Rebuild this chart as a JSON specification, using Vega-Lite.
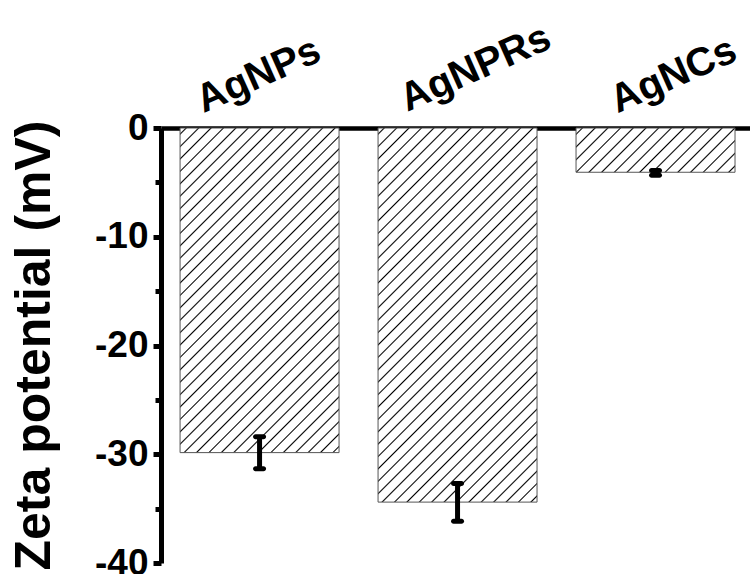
{
  "$schema": "https://vega.github.io/schema/vega-lite/v6.json",
  "width": 589,
  "height": 435,
  "autosize": {"type": "none"},
  "padding": {"left": 161, "top": 128, "right": 0, "bottom": 11},
  "background": "white",
  "config": {"view": {"stroke": null}},
  "data": {"values": [
    {"cat": "AgNPs", "zeta": -29.85, "lo": -31.33, "hi": -28.4},
    {"cat": "AgNPRs", "zeta": -34.4, "lo": -36.15, "hi": -32.7},
    {"cat": "AgNCs", "zeta": -4.07, "lo": -4.35, "hi": -3.9}
  ]},
  "encoding": {
    "x": {
      "field": "cat", "type": "nominal", "sort": null,
      "scale": {"domain": ["AgNPs", "AgNPRs", "AgNCs"], "paddingInner": 0.197, "paddingOuter": 0.086, "align": 0.56},
      "axis": {
        "orient": "top", "title": null, "ticks": false,
        "domainColor": "black", "domainWidth": 4.5,
        "labelAngle": -24, "labelAlign": "center", "labelBaseline": "middle",
        "labelPadding": {"condition": {"test": "datum.value === 'AgNPRs'", "value": 60}, "value": 53},
        "labelOffset": {"condition": {"test": "datum.value === 'AgNPs'", "value": -1}, "value": 18},
        "labelFont": "Liberation Sans", "labelFontWeight": "bold", "labelFontSize": 40, "labelColor": "black"
      }
    }
  },
  "layer": [
    {
      "transform": [{"filter": "datum.cat === 'AgNPs'"}],
      "mark": {"type": "bar", "stroke": "#555", "strokeWidth": 1,
        "fill": {"gradient": "linear", "x1": 0, "y1": 0, "x2": 0.5886, "y2": 1.2015, "stops": [
{"offset":0.0097,"color":"#fff"},{"offset":0.0128,"color":"#000"},{"offset":0.0159,"color":"#fff"},
{"offset":0.0354,"color":"#fff"},{"offset":0.0385,"color":"#000"},{"offset":0.0416,"color":"#fff"},
{"offset":0.0610,"color":"#fff"},{"offset":0.0641,"color":"#000"},{"offset":0.0672,"color":"#fff"},
{"offset":0.0866,"color":"#fff"},{"offset":0.0897,"color":"#000"},{"offset":0.0928,"color":"#fff"},
{"offset":0.1123,"color":"#fff"},{"offset":0.1154,"color":"#000"},{"offset":0.1185,"color":"#fff"},
{"offset":0.1379,"color":"#fff"},{"offset":0.1410,"color":"#000"},{"offset":0.1441,"color":"#fff"},
{"offset":0.1636,"color":"#fff"},{"offset":0.1667,"color":"#000"},{"offset":0.1698,"color":"#fff"},
{"offset":0.1892,"color":"#fff"},{"offset":0.1923,"color":"#000"},{"offset":0.1954,"color":"#fff"},
{"offset":0.2148,"color":"#fff"},{"offset":0.2179,"color":"#000"},{"offset":0.2210,"color":"#fff"},
{"offset":0.2405,"color":"#fff"},{"offset":0.2436,"color":"#000"},{"offset":0.2467,"color":"#fff"},
{"offset":0.2661,"color":"#fff"},{"offset":0.2692,"color":"#000"},{"offset":0.2723,"color":"#fff"},
{"offset":0.2918,"color":"#fff"},{"offset":0.2949,"color":"#000"},{"offset":0.2980,"color":"#fff"},
{"offset":0.3174,"color":"#fff"},{"offset":0.3205,"color":"#000"},{"offset":0.3236,"color":"#fff"},
{"offset":0.3431,"color":"#fff"},{"offset":0.3462,"color":"#000"},{"offset":0.3493,"color":"#fff"},
{"offset":0.3687,"color":"#fff"},{"offset":0.3718,"color":"#000"},{"offset":0.3749,"color":"#fff"},
{"offset":0.3943,"color":"#fff"},{"offset":0.3974,"color":"#000"},{"offset":0.4005,"color":"#fff"},
{"offset":0.4200,"color":"#fff"},{"offset":0.4231,"color":"#000"},{"offset":0.4262,"color":"#fff"},
{"offset":0.4456,"color":"#fff"},{"offset":0.4487,"color":"#000"},{"offset":0.4518,"color":"#fff"},
{"offset":0.4713,"color":"#fff"},{"offset":0.4744,"color":"#000"},{"offset":0.4775,"color":"#fff"},
{"offset":0.4969,"color":"#fff"},{"offset":0.5000,"color":"#000"},{"offset":0.5031,"color":"#fff"},
{"offset":0.5225,"color":"#fff"},{"offset":0.5256,"color":"#000"},{"offset":0.5287,"color":"#fff"},
{"offset":0.5482,"color":"#fff"},{"offset":0.5513,"color":"#000"},{"offset":0.5544,"color":"#fff"},
{"offset":0.5738,"color":"#fff"},{"offset":0.5769,"color":"#000"},{"offset":0.5800,"color":"#fff"},
{"offset":0.5995,"color":"#fff"},{"offset":0.6026,"color":"#000"},{"offset":0.6057,"color":"#fff"},
{"offset":0.6251,"color":"#fff"},{"offset":0.6282,"color":"#000"},{"offset":0.6313,"color":"#fff"},
{"offset":0.6507,"color":"#fff"},{"offset":0.6538,"color":"#000"},{"offset":0.6569,"color":"#fff"},
{"offset":0.6764,"color":"#fff"},{"offset":0.6795,"color":"#000"},{"offset":0.6826,"color":"#fff"},
{"offset":0.7020,"color":"#fff"},{"offset":0.7051,"color":"#000"},{"offset":0.7082,"color":"#fff"},
{"offset":0.7277,"color":"#fff"},{"offset":0.7308,"color":"#000"},{"offset":0.7339,"color":"#fff"},
{"offset":0.7533,"color":"#fff"},{"offset":0.7564,"color":"#000"},{"offset":0.7595,"color":"#fff"},
{"offset":0.7790,"color":"#fff"},{"offset":0.7821,"color":"#000"},{"offset":0.7852,"color":"#fff"},
{"offset":0.8046,"color":"#fff"},{"offset":0.8077,"color":"#000"},{"offset":0.8108,"color":"#fff"},
{"offset":0.8302,"color":"#fff"},{"offset":0.8333,"color":"#000"},{"offset":0.8364,"color":"#fff"},
{"offset":0.8559,"color":"#fff"},{"offset":0.8590,"color":"#000"},{"offset":0.8621,"color":"#fff"},
{"offset":0.8815,"color":"#fff"},{"offset":0.8846,"color":"#000"},{"offset":0.8877,"color":"#fff"},
{"offset":0.9072,"color":"#fff"},{"offset":0.9103,"color":"#000"},{"offset":0.9134,"color":"#fff"},
{"offset":0.9328,"color":"#fff"},{"offset":0.9359,"color":"#000"},{"offset":0.9390,"color":"#fff"},
{"offset":0.9584,"color":"#fff"},{"offset":0.9615,"color":"#000"},{"offset":0.9646,"color":"#fff"},
{"offset":0.9841,"color":"#fff"},{"offset":0.9872,"color":"#000"},{"offset":0.9903,"color":"#fff"}
        ]}},
      "encoding": {
        "y": {
          "field": "zeta", "type": "quantitative",
          "scale": {"domain": [-40, 0], "nice": false, "zero": false},
          "axis": {
            "orient": "left",
            "title": "Zeta potential (mV)",
            "titleFont": "Liberation Sans", "titleFontWeight": "bold", "titleFontSize": 50, "titleColor": "black",
            "titleAngle": -90, "titleBaseline": "alphabetic", "titleAlign": "center",
            "titleX": -112, "titleY": 217,
            "values": [-40, -35, -30, -25, -20, -15, -10, -5, 0],
            "labelExpr": "datum.value % 10 === 0 ? '' + datum.value : ''",
            "labelFont": "Liberation Sans", "labelFontWeight": "bold", "labelFontSize": 37, "labelColor": "black",
            "labelPadding": 5, "labelAlign": "right", "labelBaseline": "middle", "labelFlush": false, "labelOverlap": false,
            "domainColor": "black", "domainWidth": 5,
            "tickColor": "black", "tickWidth": 5,
            "tickSize": {"condition": {"test": "datum.value % 10 === 0", "value": 8}, "value": 6},
            "grid": false
          }
        }
      }
    },
    {
      "transform": [{"filter": "datum.cat === 'AgNPRs'"}],
      "mark": {"type": "bar", "stroke": "#555", "strokeWidth": 1,
        "fill": {"gradient": "linear", "x1": 0, "y1": 0, "x2": 0.5130, "y2": 1.2070, "stops": [
{"offset":0.0088,"color":"#fff"},{"offset":0.0116,"color":"#000"},{"offset":0.0144,"color":"#fff"},
{"offset":0.0321,"color":"#fff"},{"offset":0.0349,"color":"#000"},{"offset":0.0377,"color":"#fff"},
{"offset":0.0553,"color":"#fff"},{"offset":0.0581,"color":"#000"},{"offset":0.0609,"color":"#fff"},
{"offset":0.0786,"color":"#fff"},{"offset":0.0814,"color":"#000"},{"offset":0.0842,"color":"#fff"},
{"offset":0.1019,"color":"#fff"},{"offset":0.1047,"color":"#000"},{"offset":0.1075,"color":"#fff"},
{"offset":0.1251,"color":"#fff"},{"offset":0.1279,"color":"#000"},{"offset":0.1307,"color":"#fff"},
{"offset":0.1484,"color":"#fff"},{"offset":0.1512,"color":"#000"},{"offset":0.1540,"color":"#fff"},
{"offset":0.1716,"color":"#fff"},{"offset":0.1744,"color":"#000"},{"offset":0.1772,"color":"#fff"},
{"offset":0.1949,"color":"#fff"},{"offset":0.1977,"color":"#000"},{"offset":0.2005,"color":"#fff"},
{"offset":0.2181,"color":"#fff"},{"offset":0.2209,"color":"#000"},{"offset":0.2237,"color":"#fff"},
{"offset":0.2414,"color":"#fff"},{"offset":0.2442,"color":"#000"},{"offset":0.2470,"color":"#fff"},
{"offset":0.2646,"color":"#fff"},{"offset":0.2674,"color":"#000"},{"offset":0.2702,"color":"#fff"},
{"offset":0.2879,"color":"#fff"},{"offset":0.2907,"color":"#000"},{"offset":0.2935,"color":"#fff"},
{"offset":0.3112,"color":"#fff"},{"offset":0.3140,"color":"#000"},{"offset":0.3168,"color":"#fff"},
{"offset":0.3344,"color":"#fff"},{"offset":0.3372,"color":"#000"},{"offset":0.3400,"color":"#fff"},
{"offset":0.3577,"color":"#fff"},{"offset":0.3605,"color":"#000"},{"offset":0.3633,"color":"#fff"},
{"offset":0.3809,"color":"#fff"},{"offset":0.3837,"color":"#000"},{"offset":0.3865,"color":"#fff"},
{"offset":0.4042,"color":"#fff"},{"offset":0.4070,"color":"#000"},{"offset":0.4098,"color":"#fff"},
{"offset":0.4274,"color":"#fff"},{"offset":0.4302,"color":"#000"},{"offset":0.4330,"color":"#fff"},
{"offset":0.4507,"color":"#fff"},{"offset":0.4535,"color":"#000"},{"offset":0.4563,"color":"#fff"},
{"offset":0.4739,"color":"#fff"},{"offset":0.4767,"color":"#000"},{"offset":0.4795,"color":"#fff"},
{"offset":0.4972,"color":"#fff"},{"offset":0.5000,"color":"#000"},{"offset":0.5028,"color":"#fff"},
{"offset":0.5205,"color":"#fff"},{"offset":0.5233,"color":"#000"},{"offset":0.5261,"color":"#fff"},
{"offset":0.5437,"color":"#fff"},{"offset":0.5465,"color":"#000"},{"offset":0.5493,"color":"#fff"},
{"offset":0.5670,"color":"#fff"},{"offset":0.5698,"color":"#000"},{"offset":0.5726,"color":"#fff"},
{"offset":0.5902,"color":"#fff"},{"offset":0.5930,"color":"#000"},{"offset":0.5958,"color":"#fff"},
{"offset":0.6135,"color":"#fff"},{"offset":0.6163,"color":"#000"},{"offset":0.6191,"color":"#fff"},
{"offset":0.6367,"color":"#fff"},{"offset":0.6395,"color":"#000"},{"offset":0.6423,"color":"#fff"},
{"offset":0.6600,"color":"#fff"},{"offset":0.6628,"color":"#000"},{"offset":0.6656,"color":"#fff"},
{"offset":0.6832,"color":"#fff"},{"offset":0.6860,"color":"#000"},{"offset":0.6888,"color":"#fff"},
{"offset":0.7065,"color":"#fff"},{"offset":0.7093,"color":"#000"},{"offset":0.7121,"color":"#fff"},
{"offset":0.7298,"color":"#fff"},{"offset":0.7326,"color":"#000"},{"offset":0.7354,"color":"#fff"},
{"offset":0.7530,"color":"#fff"},{"offset":0.7558,"color":"#000"},{"offset":0.7586,"color":"#fff"},
{"offset":0.7763,"color":"#fff"},{"offset":0.7791,"color":"#000"},{"offset":0.7819,"color":"#fff"},
{"offset":0.7995,"color":"#fff"},{"offset":0.8023,"color":"#000"},{"offset":0.8051,"color":"#fff"},
{"offset":0.8228,"color":"#fff"},{"offset":0.8256,"color":"#000"},{"offset":0.8284,"color":"#fff"},
{"offset":0.8460,"color":"#fff"},{"offset":0.8488,"color":"#000"},{"offset":0.8516,"color":"#fff"},
{"offset":0.8693,"color":"#fff"},{"offset":0.8721,"color":"#000"},{"offset":0.8749,"color":"#fff"},
{"offset":0.8925,"color":"#fff"},{"offset":0.8953,"color":"#000"},{"offset":0.8981,"color":"#fff"},
{"offset":0.9158,"color":"#fff"},{"offset":0.9186,"color":"#000"},{"offset":0.9214,"color":"#fff"},
{"offset":0.9391,"color":"#fff"},{"offset":0.9419,"color":"#000"},{"offset":0.9447,"color":"#fff"},
{"offset":0.9623,"color":"#fff"},{"offset":0.9651,"color":"#000"},{"offset":0.9679,"color":"#fff"},
{"offset":0.9856,"color":"#fff"},{"offset":0.9884,"color":"#000"},{"offset":0.9912,"color":"#fff"}
        ]}},
      "encoding": {"y": {"field": "zeta", "type": "quantitative"}}
    },
    {
      "transform": [{"filter": "datum.cat === 'AgNCs'"}],
      "mark": {"type": "bar", "stroke": "#555", "strokeWidth": 1,
        "fill": {"gradient": "linear", "x1": 0, "y1": 0, "x2": 1.1865, "y2": 0.3306, "stops": [
{"offset":0.0239,"color":"#fff"},{"offset":0.0313,"color":"#000"},{"offset":0.0387,"color":"#fff"},
{"offset":0.0864,"color":"#fff"},{"offset":0.0938,"color":"#000"},{"offset":0.1012,"color":"#fff"},
{"offset":0.1489,"color":"#fff"},{"offset":0.1563,"color":"#000"},{"offset":0.1637,"color":"#fff"},
{"offset":0.2114,"color":"#fff"},{"offset":0.2188,"color":"#000"},{"offset":0.2262,"color":"#fff"},
{"offset":0.2739,"color":"#fff"},{"offset":0.2813,"color":"#000"},{"offset":0.2887,"color":"#fff"},
{"offset":0.3364,"color":"#fff"},{"offset":0.3438,"color":"#000"},{"offset":0.3512,"color":"#fff"},
{"offset":0.3989,"color":"#fff"},{"offset":0.4063,"color":"#000"},{"offset":0.4137,"color":"#fff"},
{"offset":0.4614,"color":"#fff"},{"offset":0.4688,"color":"#000"},{"offset":0.4762,"color":"#fff"},
{"offset":0.5239,"color":"#fff"},{"offset":0.5313,"color":"#000"},{"offset":0.5387,"color":"#fff"},
{"offset":0.5864,"color":"#fff"},{"offset":0.5938,"color":"#000"},{"offset":0.6012,"color":"#fff"},
{"offset":0.6489,"color":"#fff"},{"offset":0.6563,"color":"#000"},{"offset":0.6637,"color":"#fff"},
{"offset":0.7114,"color":"#fff"},{"offset":0.7188,"color":"#000"},{"offset":0.7262,"color":"#fff"},
{"offset":0.7739,"color":"#fff"},{"offset":0.7813,"color":"#000"},{"offset":0.7887,"color":"#fff"},
{"offset":0.8364,"color":"#fff"},{"offset":0.8438,"color":"#000"},{"offset":0.8512,"color":"#fff"},
{"offset":0.8989,"color":"#fff"},{"offset":0.9063,"color":"#000"},{"offset":0.9137,"color":"#fff"},
{"offset":0.9614,"color":"#fff"},{"offset":0.9688,"color":"#000"},{"offset":0.9762,"color":"#fff"}
        ]}},
      "encoding": {"y": {"field": "zeta", "type": "quantitative"}}
    },
    {
      "mark": {"type": "rule", "color": "black", "strokeWidth": 5},
      "encoding": {
        "y": {"field": "lo", "type": "quantitative"},
        "y2": {"field": "hi"}
      }
    },
    {
      "mark": {"type": "tick", "color": "black", "size": 13, "thickness": 5, "cornerRadius": 2.5, "opacity": 1},
      "encoding": {"y": {"field": "lo", "type": "quantitative"}}
    },
    {
      "mark": {"type": "tick", "color": "black", "size": 13, "thickness": 5, "cornerRadius": 2.5, "opacity": 1},
      "encoding": {"y": {"field": "hi", "type": "quantitative"}}
    }
  ]
}
